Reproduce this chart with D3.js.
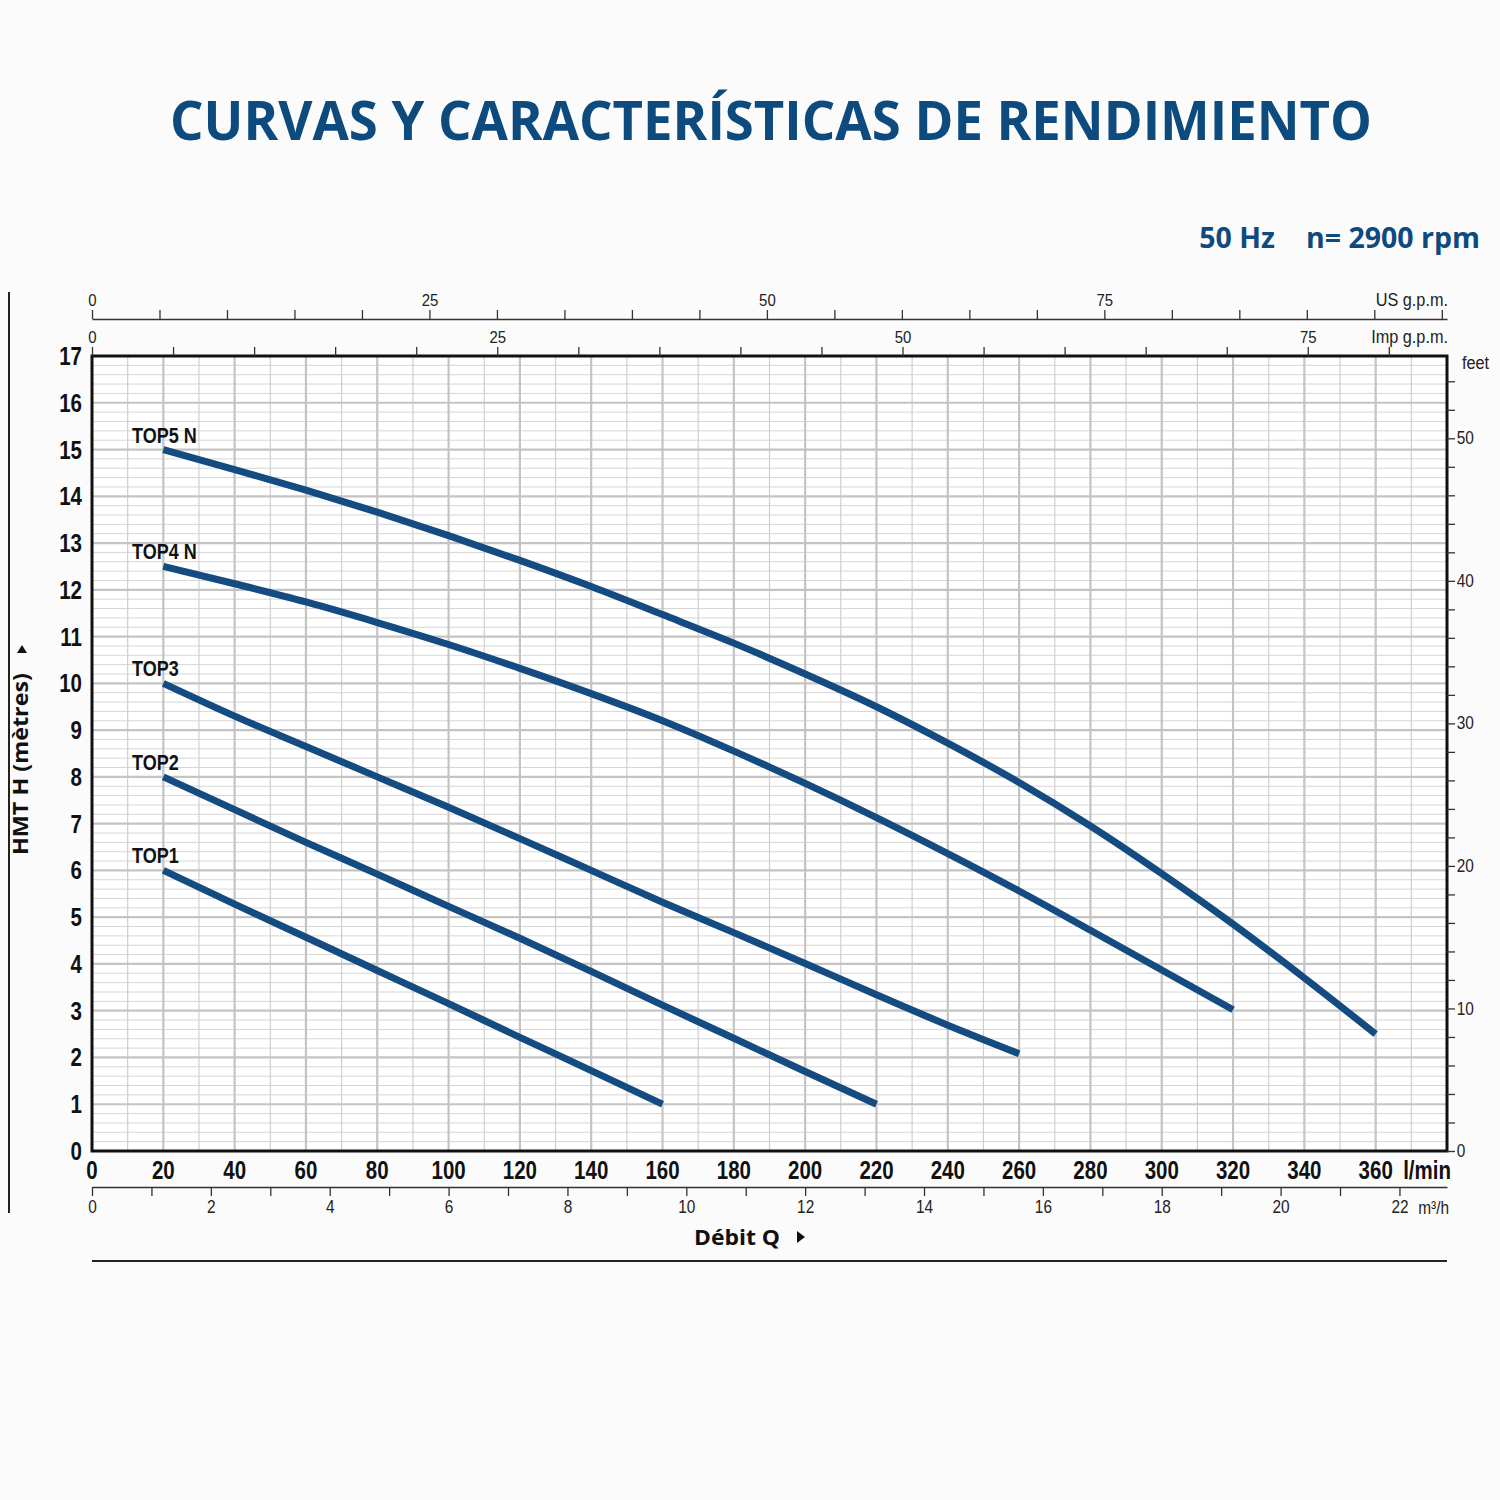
<!DOCTYPE html>
<html><head><meta charset="utf-8">
<script src="https://cdn.jsdelivr.net/npm/d3@7/dist/d3.min.js"></script>
<style>
body{margin:0;background:#fbfbfb;}
svg{display:block;}
</style></head>
<body>
<svg id="chart" width="1500" height="1500"></svg>
<script>
// ---- data ----
const flowLmin = [20,40,60,80,100,120,140,160,180,200,220,240,260,280,300,320,340,360];
const top5N = [15,14.57,14.13,13.66,13.16,12.63,12.07,11.47,10.86,10.2,9.5,8.72,7.88,6.95,5.93,4.85,3.7,2.5];
const top4N = [12.5,12.13,11.74,11.3,10.83,10.32,9.78,9.2,8.55,7.86,7.13,6.36,5.56,4.72,3.87,3.02];
const top3  = [10,9.3,8.65,8.0,7.35,6.68,6.0,5.32,4.67,4.01,3.34,2.69,2.08];
const top2  = [8,7.3,6.6,5.92,5.23,4.55,3.84,3.12,2.41,1.7,1.0];
const top1  = [6,5.28,4.57,3.86,3.15,2.43,1.72,1.0];
const seriesNames = ["TOP5 N","TOP4 N","TOP3","TOP2","TOP1"];
const seriesValues = [top5N, top4N, top3, top2, top1];
const xTicksLmin = d3.range(0, 361, 20);
const yTicksM = d3.range(0, 18, 1);
const usGpmLabels = [0,25,50,75];
const impGpmLabels = [0,25,50,75];
const m3hLabels = [0,2,4,6,8,10,12,14,16,18,20,22];
const feetLabels = [0,10,20,30,40,50];
const titleText = "CURVAS Y CARACTERÍSTICAS DE RENDIMIENTO";
const subHz = "50 Hz";
const subRpm = "n= 2900 rpm";

// ---- layout ----
const L = 92, R = 1447, T = 356, B = 1151;
const blue = "#0d4a7e";
const curveColor = "#144b80";
const SANS = "'Liberation Sans',Arial,sans-serif";
const OPEN = "'Open Sans','Noto Sans',sans-serif";
const NARROW = 0.82;
const svg = d3.select("#chart");

const x = d3.scaleLinear().domain([0,380]).range([L,R]);
const y = d3.scaleLinear().domain([0,17]).range([B,T]);
const xUS = d3.scaleLinear().domain([0,380/3.78541]).range([L,R]);
const xImp = d3.scaleLinear().domain([0,380/4.54609]).range([L,R]);
const xM3 = d3.scaleLinear().domain([0,380*60/1000]).range([L,R]);
const yFt = d3.scaleLinear().domain([0,17/0.3048]).range([B,T]);

function narrowText(parent, px, py, txt, opts){
  const o = Object.assign({size:18, weight:"normal", anchor:"start", fill:"#222", sx:0.88, dy:null}, opts||{});
  const gg = parent.append("g").attr("transform",`translate(${px},${py}) scale(${o.sx},1)`);
  const t = gg.append("text").attr("x",0).attr("y",0).attr("text-anchor",o.anchor)
    .attr("font-family",SANS).attr("font-size",o.size).attr("font-weight",o.weight)
    .attr("fill",o.fill).text(txt);
  if(o.dy) t.attr("dy",o.dy);
  return gg;
}

// title
svg.append("text").attr("x",771).attr("y",140).attr("text-anchor","middle")
  .attr("font-family",OPEN).attr("font-weight","bold")
  .attr("font-size",53).attr("fill",blue)
  .attr("textLength",1202).attr("lengthAdjust","spacingAndGlyphs").text(titleText);
svg.append("text").attr("x",1275).attr("y",248).attr("text-anchor","end")
  .attr("font-family",OPEN).attr("font-weight","bold")
  .attr("font-size",28.5).attr("fill",blue).text(subHz);
svg.append("text").attr("x",1480).attr("y",248).attr("text-anchor","end")
  .attr("font-family",OPEN).attr("font-weight","bold")
  .attr("font-size",28.5).attr("fill",blue).text(subRpm);

// plot background
svg.append("rect").attr("x",L).attr("y",T).attr("width",R-L).attr("height",B-T).attr("fill","#ffffff");

// grid
const g = svg.append("g");
const minorY = d3.range(1, 85).map(i => i/5).filter(v => Math.abs(v - Math.round(v)) > 0.01);
g.selectAll(".my").data(minorY).join("line")
  .attr("x1",L).attr("x2",R).attr("y1",d=>y(d)).attr("y2",d=>y(d))
  .attr("stroke","#d6d6d6").attr("stroke-width",1);
const minorX = d3.range(10, 380, 20);
g.selectAll(".mx").data(minorX).join("line")
  .attr("y1",T).attr("y2",B).attr("x1",d=>x(d)).attr("x2",d=>x(d))
  .attr("stroke","#cfcfcf").attr("stroke-width",1.2);
g.selectAll(".My").data(d3.range(1,17)).join("line")
  .attr("x1",L).attr("x2",R).attr("y1",d=>y(d)).attr("y2",d=>y(d))
  .attr("stroke","#c4c4c4").attr("stroke-width",2.2);
g.selectAll(".Mx").data(d3.range(20,380,20)).join("line")
  .attr("y1",T).attr("y2",B).attr("x1",d=>x(d)).attr("x2",d=>x(d))
  .attr("stroke","#c4c4c4").attr("stroke-width",2.2);

// curves
const line = d3.line().x(d=>x(d[0])).y(d=>y(d[1])).curve(d3.curveMonotoneX);
seriesValues.forEach((vals,i)=>{
  const pts = vals.map((v,j)=>[flowLmin[j], v]);
  svg.append("path").datum(pts).attr("d",line).attr("fill","none")
    .attr("stroke",curveColor).attr("stroke-width",7).attr("stroke-linecap","butt");
  narrowText(svg, 132, y(vals[0])-7, seriesNames[i], {size:22, weight:"bold", fill:"#111", sx:NARROW});
});

// plot border
svg.append("rect").attr("x",L).attr("y",T).attr("width",R-L).attr("height",B-T)
  .attr("fill","none").attr("stroke","#111").attr("stroke-width",3);

function styleAxis(sel, size){
  sel.attr("font-family",SANS);
  sel.selectAll("text").attr("font-size",size).attr("fill","#222").attr("transform","scale(0.88,1)");
  sel.selectAll("line").attr("stroke","#333").attr("stroke-width",1.3);
  sel.select(".domain").attr("stroke","#333").attr("stroke-width",1.5);
}

// top US gpm axis
const aUS = svg.append("g").attr("transform",`translate(0,319)`)
  .call(d3.axisTop(xUS).tickValues(d3.range(0,101,5)).tickSize(9).tickSizeOuter(0).tickPadding(4)
    .tickFormat(d=> usGpmLabels.includes(d) ? d : ""));
styleAxis(aUS,17);
narrowText(svg, 1448, 306, "US g.p.m.", {size:18.5, anchor:"end"});

// top Imp gpm axis
const aImp = svg.append("g").attr("transform",`translate(0,${T})`)
  .call(d3.axisTop(xImp).tickValues(d3.range(0,81,5)).tickSize(9).tickSizeOuter(0).tickPadding(4)
    .tickFormat(d=> impGpmLabels.includes(d) ? d : ""));
styleAxis(aImp,17);
aImp.select(".domain").remove();
narrowText(svg, 1448, 343, "Imp g.p.m.", {size:18.5, anchor:"end"});

// right feet axis
const aFt = svg.append("g").attr("transform",`translate(${R},0)`)
  .call(d3.axisRight(yFt).tickValues(d3.range(0,56,2)).tickSize(8).tickSizeOuter(0).tickPadding(3)
    .tickFormat(d=> feetLabels.includes(d) ? d : ""));
styleAxis(aFt,17.5);
aFt.select(".domain").remove();
narrowText(svg, 1462, 369, "feet", {size:18.5});

// bottom m3/h axis
const aM3 = svg.append("g").attr("transform",`translate(0,1187)`)
  .call(d3.axisBottom(xM3).tickValues(d3.range(0,23,1)).tickSize(9).tickSizeOuter(0).tickPadding(5)
    .tickFormat(d=> m3hLabels.includes(d) ? d : ""));
styleAxis(aM3,17.5);
narrowText(svg, 1449, 1214, "m³/h", {size:17.5, anchor:"end"});

// main x labels
const gx = svg.append("g");
xTicksLmin.forEach(v => narrowText(gx, x(v), 1179, String(v), {size:25, weight:"bold", anchor:"middle", fill:"#111", sx:NARROW}));
narrowText(svg, 1451, 1179, "l/min", {size:25, weight:"bold", anchor:"end", fill:"#111", sx:NARROW});

// main y labels
const gy = svg.append("g");
yTicksM.forEach(v => narrowText(gy, 82, y(v), String(v), {size:25, weight:"bold", anchor:"end", fill:"#111", sx:NARROW, dy:"0.36em"}));

// y title
const yt = svg.append("g").attr("transform","translate(28,764) rotate(-90)");
yt.append("text").attr("x",0).attr("y",0).attr("text-anchor","middle")
  .attr("font-family",OPEN).attr("font-weight","bold")
  .attr("font-size",21).attr("fill","#111")
  .attr("textLength",182).attr("lengthAdjust","spacingAndGlyphs").text("HMT H (mètres)");
yt.append("path").attr("d","M111,-11 L111,-1 L119,-6 Z").attr("fill","#111");

// x title
svg.append("text").attr("x",737).attr("y",1245).attr("text-anchor","middle")
  .attr("font-family",OPEN).attr("font-weight","bold")
  .attr("font-size",22).attr("fill","#111")
  .attr("textLength",86).attr("lengthAdjust","spacingAndGlyphs").text("Débit Q");
svg.append("path").attr("d","M797,1231 L797,1243 L805,1237 Z").attr("fill","#111");

// frame lines
svg.append("line").attr("x1",9).attr("x2",9).attr("y1",292).attr("y2",1213)
  .attr("stroke","#222").attr("stroke-width",2);
svg.append("line").attr("x1",L).attr("x2",R).attr("y1",1261).attr("y2",1261)
  .attr("stroke","#222").attr("stroke-width",2);
</script>
</body></html>
